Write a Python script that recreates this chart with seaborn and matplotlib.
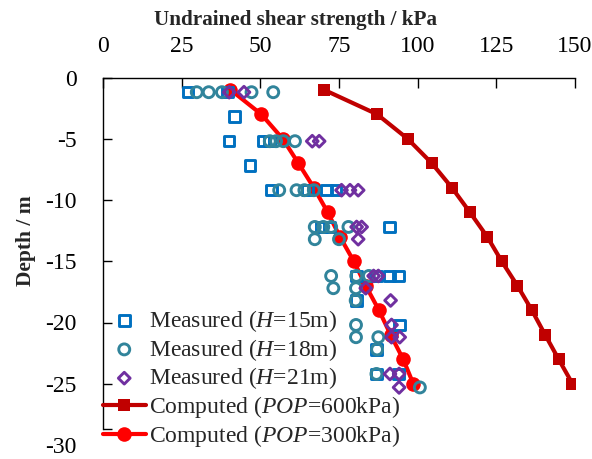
import matplotlib
matplotlib.use("Agg")
import matplotlib.pyplot as plt
import seaborn as sns

# ---------------- data ----------------
depth_comp = [-1, -3, -5, -7, -9, -11, -13, -15, -17, -19, -21, -23, -25]
su_pop600 = [70.2, 87.1, 96.8, 104.5, 110.9, 116.6, 122.1, 126.7, 131.7, 136.3, 140.5, 144.8, 149.2]
su_pop300 = [40.5, 50.3, 57.1, 62.1, 67.0, 71.4, 75.3, 79.7, 83.5, 87.7, 91.4, 95.4, 98.6]

su_h15 = [27, 39.5, 41.7, 40, 51, 53, 46.7, 53.5, 65, 71, 74, 69.5, 72, 91,
          80.5, 87, 91, 94, 80.5, 94.3, 87, 87, 94]
depth_h15 = [-1.2, -1.2, -3.2, -5.2, -5.2, -5.2, -7.2, -9.2, -9.2, -9.2, -9.2,
             -12.2, -12.2, -12.2, -16.2, -16.2, -16.2, -16.2, -18.2, -20.2, -22.2,
             -24.2, -24.2]

su_h18 = [29.8, 33.6, 37.8, 47.2, 54.1, 53, 55, 57.3, 61, 56, 61.5, 64, 67,
          67.3, 70, 72.5, 78, 67.3, 75, 72.5, 80.5, 84.5, 73.2, 80.4, 80.3, 80.4,
          80.4, 87.5, 87.1, 86.9, 100.7]
depth_h18 = [-1.2, -1.2, -1.2, -1.2, -1.2, -5.2, -5.2, -5.2, -5.2, -9.2, -9.2,
             -9.2, -9.2, -12.2, -12.2, -12.2, -12.2, -13.2, -13.2, -16.2, -16.2,
             -16.2, -17.2, -17.2, -18.2, -20.2, -21.2, -21.2, -22.2, -24.2, -25.3]

su_h21 = [40.1, 44.8, 66.5, 68.7, 75.8, 78.5, 81.1, 80.6, 82.2, 81.1, 86, 87.5,
          83.5, 91.4, 91.7, 91.7, 94.3, 91.2, 94.1, 94.1]
depth_h21 = [-1.2, -1.2, -5.2, -5.2, -9.2, -9.2, -9.2, -12.2, -12.2, -13.2,
             -16.2, -16.2, -17.2, -18.2, -20.2, -21.2, -21.2, -24.2, -24.2, -25.3]

x_ticks = [0, 25, 50, 75, 100, 125, 150]
y_ticks = [0, -5, -10, -15, -20, -25, -30]

labels = ["Measured ($\\mathit{H}$=15m)", "Measured ($\\mathit{H}$=18m)",
          "Measured ($\\mathit{H}$=21m)", "Computed ($\\mathit{POP}$=600kPa)",
          "Computed ($\\mathit{POP}$=300kPa)"]

c_h15, c_h18, c_h21 = "#0070C0", "#31849B", "#7030A0"
c_600, c_300 = "#C00000", "#FF0000"

# ---------------- style ----------------
sns.set_style("white")
plt.rcParams["font.family"] = ["Liberation Serif", "DejaVu Serif"]
plt.rcParams["mathtext.fontset"] = "custom"
plt.rcParams["mathtext.rm"] = "Liberation Serif"
plt.rcParams["mathtext.it"] = "Liberation Serif:italic"
plt.rcParams["axes.unicode_minus"] = False

fig = plt.figure(figsize=(5.92, 4.59), dpi=100)
ax = fig.add_axes([103 / 592, 1 - 445 / 459, 472 / 592, 367.5 / 459])

# computed curves (drawn first, measured on top)
sns.lineplot(x=su_pop600, y=depth_comp, sort=False, estimator=None, ax=ax,
             color=c_600, linewidth=3, marker="s", markersize=8.5,
             markeredgecolor=c_600, markeredgewidth=0, label=labels[3], zorder=2)
sns.lineplot(x=su_pop300, y=depth_comp, sort=False, estimator=None, ax=ax,
             color=c_300, linewidth=3, marker="o", markersize=10.5,
             markeredgecolor=c_300, markeredgewidth=0, label=labels[4], zorder=2)

# measured
sns.scatterplot(x=su_h15, y=depth_h15, ax=ax, marker="s", s=58,
                facecolor="none", edgecolor=c_h15, linewidth=2.1,
                label=labels[0], zorder=3)
sns.scatterplot(x=su_h18, y=depth_h18, ax=ax, marker="o", s=62,
                facecolor="none", edgecolor=c_h18, linewidth=2.1,
                label=labels[1], zorder=3)
sns.scatterplot(x=su_h21, y=depth_h21, ax=ax, marker="D", s=36,
                facecolor="none", edgecolor=c_h21, linewidth=2.1,
                label=labels[2], zorder=3)

# ---------------- axes ----------------
ax.set_xlim(0, 150)
ax.set_ylim(-30, 0)
ax.set_xticks(x_ticks)
ax.set_yticks(y_ticks)
ax.set_xticklabels([str(v) for v in x_ticks])
ax.set_yticklabels([str(v) for v in y_ticks])
ax.set_yticks([-28.7], minor=True)

ax.xaxis.set_label_position("top")
ax.tick_params(axis="x", top=True, bottom=False, labeltop=True, labelbottom=False,
               direction="in", length=7, width=1, pad=15, labelsize=17, colors="black")
ax.tick_params(axis="y", which="both", left=True, direction="in", length=6.5, width=1,
               pad=19, labelsize=17, colors="black")
ax.yaxis.get_major_ticks()[-1].tick1line.set_visible(False)

for side in ["bottom", "right"]:
    ax.spines[side].set_visible(False)
for side in ["top", "left"]:
    ax.spines[side].set_color("black")
    ax.spines[side].set_linewidth(1)
ax.spines["left"].set_bounds(-28.7, 0)

ax.set_xlabel("Undrained shear strength / kPa", fontsize=15.2, fontweight="bold")
ax.xaxis.set_label_coords(0.408, 1.142)
ax.set_ylabel("Depth / m", fontsize=15.5, fontweight="bold")
ax.yaxis.set_label_coords(-0.142, 0.555)

handles, labs = ax.get_legend_handles_labels()
order = [labs.index(l) for l in labels]
leg = ax.legend([handles[i] for i in order], [labs[i] for i in order],
                loc="lower left", bbox_to_anchor=(103 / 592, 1 - 449 / 459),
                bbox_transform=fig.transFigure, frameon=False, fontsize=17,
                borderpad=0, borderaxespad=0, handlelength=1.8, handletextpad=0.15,
                labelspacing=0.12)

fig.savefig("out.png", dpi=100)
